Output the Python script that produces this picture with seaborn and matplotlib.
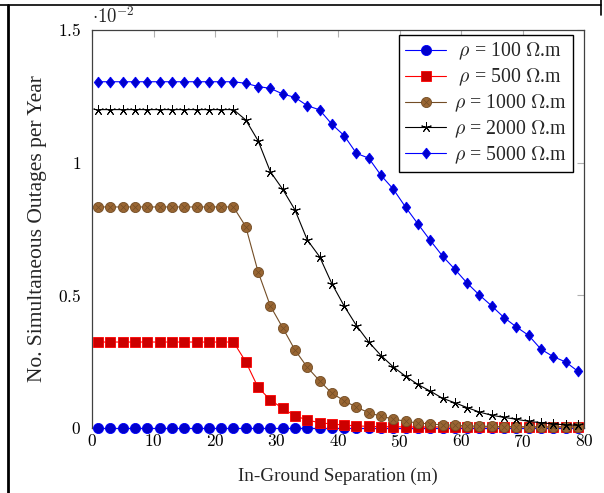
import matplotlib
matplotlib.use("Agg")
import matplotlib.pyplot as plt
from matplotlib.lines import Line2D
from matplotlib.legend_handler import HandlerTuple
from matplotlib.ticker import FuncFormatter
import seaborn as sns
import pandas as pd

# ---------------- data (y in units of 1e-2) ----------------
separation = [1, 3, 5, 7, 9, 11, 13, 15, 17, 19, 21, 23, 25, 27, 29, 31, 33, 35, 37, 39,
              41, 43, 45, 47, 49, 51, 53, 55, 57, 59, 61, 63, 65, 67, 69, 71, 73, 75, 77, 79]

rho_100 = [0.0] * 40

rho_500 = [0.324, 0.324, 0.324, 0.324, 0.324, 0.324, 0.324, 0.324, 0.324, 0.324, 0.324, 0.324,
           0.250, 0.153, 0.106, 0.074, 0.046, 0.030, 0.020, 0.015, 0.011, 0.008,
           0.006, 0.005, 0.005, 0.004, 0.004, 0.004, 0.004, 0.004, 0.004, 0.004,
           0.004, 0.004, 0.004, 0.004, 0.004, 0.004, 0.004, 0.004]

rho_1000 = [0.833, 0.833, 0.833, 0.833, 0.833, 0.833, 0.833, 0.833, 0.833, 0.833, 0.833, 0.833,
            0.759, 0.589, 0.460, 0.378, 0.294, 0.229, 0.178, 0.131, 0.103, 0.078,
            0.058, 0.044, 0.034, 0.025, 0.019, 0.015, 0.012, 0.010, 0.008, 0.007,
            0.006, 0.005, 0.005, 0.004, 0.004, 0.004, 0.004, 0.004]

rho_2000 = [1.200, 1.200, 1.200, 1.200, 1.200, 1.200, 1.200, 1.200, 1.200, 1.200, 1.200, 1.200,
            1.161, 1.083, 0.966, 0.900, 0.822, 0.709, 0.646, 0.544, 0.460, 0.386,
            0.324, 0.273, 0.230, 0.195, 0.164, 0.139, 0.112, 0.095, 0.077, 0.060,
            0.048, 0.040, 0.033, 0.025, 0.020, 0.015, 0.012, 0.010]

rho_5000 = [1.305, 1.305, 1.305, 1.305, 1.305, 1.305, 1.305, 1.305, 1.305, 1.305, 1.305, 1.305,
            1.299, 1.287, 1.280, 1.259, 1.246, 1.215, 1.199, 1.145, 1.102, 1.035,
            1.017, 0.952, 0.900, 0.832, 0.769, 0.707, 0.648, 0.598, 0.546, 0.501,
            0.460, 0.416, 0.381, 0.349, 0.297, 0.269, 0.249, 0.214]

series_labels = [r"$\;\rho$ = 100 $\Omega$.m", r"$\;\rho$ = 500 $\Omega$.m",
                 r"$\rho$ = 1000 $\Omega$.m", r"$\rho$ = 2000 $\Omega$.m",
                 r"$\rho$ = 5000 $\Omega$.m"]

x_ticks = [0, 10, 20, 30, 40, 50, 60, 70, 80]
y_ticks = [0, 0.5, 1, 1.5]
x_label = "In-Ground Separation (m)"
y_label = "No. Simultaneous Outages per Year"
exponent_text = r"$\cdot 10^{-2}$"

# ---------------- style ----------------
sns.set_theme(style="white")
plt.rcParams["font.family"] = ["Liberation Serif", "DejaVu Serif"]
plt.rcParams["mathtext.fontset"] = "cm"

fig = plt.figure(figsize=(6.04, 4.93), dpi=100)
ax = fig.add_axes([92 / 604, 1 - 428 / 493, (584 - 92) / 604, (428 - 30) / 493])

df = pd.DataFrame({"sep": separation, "r100": rho_100, "r500": rho_500,
                   "r1000": rho_1000, "r2000": rho_2000, "r5000": rho_5000})

blue = (0, 0, 1)
blue_fill = (0, 0, 0.8)
red = (1, 0, 0)
red_fill = (0.8, 0, 0)
brown_line = (0.45, 0.30, 0.15)
brown_fill = (0.6, 0.4, 0.2)
diamond = [(0, 1), (0.78, 0), (0, -1), (-0.78, 0), (0, 1)]

lw = 0.8
common = dict(ax=ax, linewidth=lw, clip_on=False, sort=False)

sns.lineplot(data=df, x="sep", y="r100", color=blue, marker="o", markersize=7.3,
             markerfacecolor=blue_fill, markeredgecolor=blue, markeredgewidth=0.6,
             label=series_labels[0], zorder=3, **common)
sns.lineplot(data=df, x="sep", y="r500", color=red, marker="s", markersize=6.5,
             markerfacecolor=red_fill, markeredgecolor=red, markeredgewidth=0.6,
             label=series_labels[1], zorder=4, **common)
sns.lineplot(data=df, x="sep", y="r1000", color=brown_line, marker="o", markersize=7.3,
             markerfacecolor=brown_fill, markeredgecolor=brown_line, markeredgewidth=0.6,
             label=series_labels[2], zorder=5, **common)
sns.scatterplot(data=df, x="sep", y="r1000", marker="x", s=18, color=brown_line,
                linewidth=0.5, ax=ax, zorder=5.5, clip_on=False, legend=False)
sns.lineplot(data=df, x="sep", y="r2000", color="black", marker=(5, 2, 0), markersize=7.4,
             markeredgecolor="black", markeredgewidth=0.7,
             label=series_labels[3], zorder=6, **common)
sns.lineplot(data=df, x="sep", y="r5000", color=blue, marker=diamond, markersize=7.8,
             markerfacecolor=blue_fill, markeredgecolor=blue, markeredgewidth=0.6,
             label=series_labels[4], zorder=7, **common)

ax.set_xlim(0, 80)
ax.set_ylim(0, 1.5)
ax.set_xticks(x_ticks)
ax.set_yticks(y_ticks)

def fmt(v, pos):
    return "$%g$" % v

ax.xaxis.set_major_formatter(FuncFormatter(fmt))
ax.yaxis.set_major_formatter(FuncFormatter(fmt))

ax.tick_params(axis="both", which="both", direction="in", length=5, width=0.8,
               color="#b0b0b0", labelsize=12.5, top=True, right=True,
               labelcolor="black")
ax.tick_params(axis="x", pad=4)
ax.tick_params(axis="y", pad=8)
for sp in ax.spines.values():
    sp.set_visible(True)
    sp.set_color("#404040")
    sp.set_linewidth(0.9)

ax.set_xlabel(x_label, fontsize=13.8, labelpad=12)
ax.set_ylabel(y_label, fontsize=15.5)
ax.yaxis.set_label_coords((47 - 92) / 492, 0.5)

fig.text(92 / 604, 1 - 17 / 493, exponent_text, fontsize=13.5, ha="left", va="center")

# legend with otimes proxy
handles, labels = ax.get_legend_handles_labels()
new_handles = []
for h, l in zip(handles, labels):
    if l == series_labels[2]:
        xh = Line2D([], [], linestyle="none", marker="x", markersize=4.5,
                    markeredgecolor=brown_line, markeredgewidth=0.5)
        new_handles.append((h, xh))
    else:
        new_handles.append(h)
leg = ax.legend(new_handles, labels, loc="upper right",
                bbox_to_anchor=((573 - 92) / 492, (428 - 35) / 398),
                fontsize=14.3, frameon=True, fancybox=False, edgecolor="black",
                framealpha=1, borderpad=0.3, labelspacing=0.22, handlelength=2.1,
                handletextpad=0.4, borderaxespad=0,
                handler_map={tuple: HandlerTuple(ndivide=1, pad=0)})
leg.get_frame().set_linewidth(1.0)
leg.set_zorder(10)

# outer page-frame lines
fig.add_artist(Line2D([8 / 604, 8 / 604], [0, 1 - 5 / 493], transform=fig.transFigure,
                      color="black", linewidth=2))
fig.add_artist(Line2D([0, 601 / 604], [1 - 4.5 / 493, 1 - 4.5 / 493], transform=fig.transFigure,
                      color="black", linewidth=1.2))
fig.add_artist(Line2D([601 / 604, 601 / 604], [1, 1 - 15 / 493], transform=fig.transFigure,
                      color="black", linewidth=1.2))

fig.savefig("out.png", dpi=100)
